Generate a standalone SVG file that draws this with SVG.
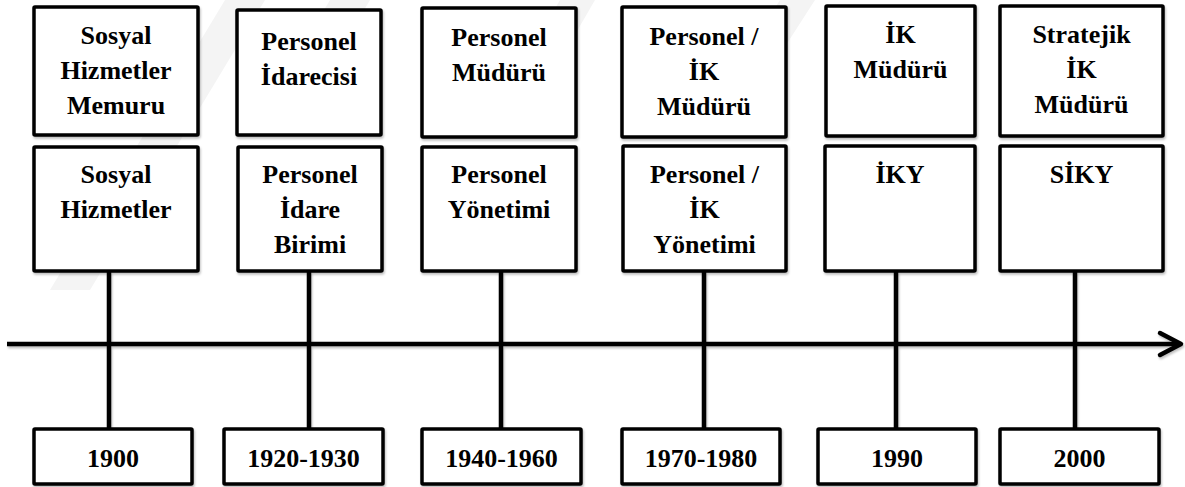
<svg xmlns="http://www.w3.org/2000/svg" width="1185" height="487" viewBox="0 0 1185 487">
<style>
.box{fill:#fff;stroke:#000;stroke-width:3.5;filter:url(#sh)}
.t{font-family:"Liberation Serif","Times New Roman",serif;font-weight:bold;font-size:26px;fill:#000;text-anchor:middle}
.ln{stroke:#000;stroke-width:4.5;fill:none}
.wm{fill:#f4f4f4}
</style>
<defs>
<filter id="sh" x="-5%" y="-5%" width="110%" height="120%">
<feDropShadow dx="1" dy="2" stdDeviation="1.2" flood-color="#000" flood-opacity="0.25"/>
</filter>
<filter id="shl" filterUnits="userSpaceOnUse" x="0" y="0" width="1185" height="487">
<feDropShadow dx="1" dy="2" stdDeviation="1.2" flood-color="#000" flood-opacity="0.25"/>
</filter>
</defs>
<rect width="1185" height="487" fill="#fff"/>
<g id="watermark">
<polygon class="wm" points="225,0 265,0 90,290 50,290"/>
<polygon class="wm" points="330,0 370,0 290,135 250,135"/>
<polygon class="wm" points="560,0 595,0 540,95 505,95"/>
<polygon class="wm" points="780,0 815,0 770,70 735,70"/>
</g>
<g id="connectors" filter="url(#shl)">
<line class="ln" x1="109" y1="272" x2="109" y2="428"/>
<line class="ln" x1="309" y1="272" x2="309" y2="428"/>
<line class="ln" x1="501" y1="272" x2="501" y2="428"/>
<line class="ln" x1="704" y1="272" x2="704" y2="428"/>
<line class="ln" x1="896" y1="272" x2="896" y2="428"/>
<line class="ln" x1="1075" y1="272" x2="1075" y2="428"/>
<line class="ln" x1="7" y1="344" x2="1180" y2="344"/>
<polyline class="ln" points="1160,333 1181,344 1160,355" stroke-linecap="round" stroke-linejoin="round"/>
</g>
<g id="n1-title"><rect class="box" x="34" y="7" width="164" height="128" rx="1"/>
<text class="t" x="116" y="43.5">Sosyal</text><text class="t" x="116" y="78.5">Hizmetler</text><text class="t" x="116" y="113.5">Memuru</text></g>
<g id="n1-unit"><rect class="box" x="34" y="147" width="164" height="124" rx="1"/>
<text class="t" x="116" y="183">Sosyal</text><text class="t" x="116" y="218">Hizmetler</text></g>
<g id="n1-year"><rect class="box" x="34" y="429" width="158" height="55" rx="1"/>
<text class="t" x="113" y="467">1900</text></g>

<g id="n2-title"><rect class="box" x="237" y="10" width="144" height="125" rx="1"/>
<text class="t" x="309" y="49.5">Personel</text><text class="t" x="309" y="84.5">İdarecisi</text></g>
<g id="n2-unit"><rect class="box" x="238" y="147" width="144" height="124" rx="1"/>
<text class="t" x="310" y="183">Personel</text><text class="t" x="310" y="218">İdare</text><text class="t" x="310" y="253">Birimi</text></g>
<g id="n2-year"><rect class="box" x="224" y="429" width="159" height="55" rx="1"/>
<text class="t" x="303.5" y="467">1920-1930</text></g>

<g id="n3-title"><rect class="box" x="422" y="8" width="154" height="129" rx="1"/>
<text class="t" x="499" y="45.5">Personel</text><text class="t" x="499" y="80.5">Müdürü</text></g>
<g id="n3-unit"><rect class="box" x="422" y="147" width="154" height="124" rx="1"/>
<text class="t" x="499" y="183">Personel</text><text class="t" x="499" y="218">Yönetimi</text></g>
<g id="n3-year"><rect class="box" x="422" y="429" width="159" height="55" rx="1"/>
<text class="t" x="501.5" y="467">1940-1960</text></g>

<g id="n4-title"><rect class="box" x="622" y="7" width="164" height="130" rx="1"/>
<text class="t" x="704" y="45">Personel /</text><text class="t" x="704" y="80">İK</text><text class="t" x="704" y="115">Müdürü</text></g>
<g id="n4-unit"><rect class="box" x="623" y="146" width="163" height="125" rx="1"/>
<text class="t" x="704.5" y="183">Personel /</text><text class="t" x="704.5" y="218">İK</text><text class="t" x="704.5" y="253">Yönetimi</text></g>
<g id="n4-year"><rect class="box" x="622" y="429" width="158" height="55" rx="1"/>
<text class="t" x="701" y="467">1970-1980</text></g>

<g id="n5-title"><rect class="box" x="826" y="6" width="149" height="130" rx="1"/>
<text class="t" x="900.5" y="43">İK</text><text class="t" x="900.5" y="78">Müdürü</text></g>
<g id="n5-unit"><rect class="box" x="825" y="146" width="150" height="125" rx="1"/>
<text class="t" x="900" y="183">İKY</text></g>
<g id="n5-year"><rect class="box" x="818" y="429" width="158" height="55" rx="1"/>
<text class="t" x="897" y="467">1990</text></g>

<g id="n6-title"><rect class="box" x="1000" y="6" width="163" height="130" rx="1"/>
<text class="t" x="1081.5" y="43">Stratejik</text><text class="t" x="1081.5" y="78">İK</text><text class="t" x="1081.5" y="113">Müdürü</text></g>
<g id="n6-unit"><rect class="box" x="1000" y="146" width="163" height="125" rx="1"/>
<text class="t" x="1081.5" y="183">SİKY</text></g>
<g id="n6-year"><rect class="box" x="1000" y="429" width="159" height="55" rx="1"/>
<text class="t" x="1079.5" y="467">2000</text></g>
</svg>
